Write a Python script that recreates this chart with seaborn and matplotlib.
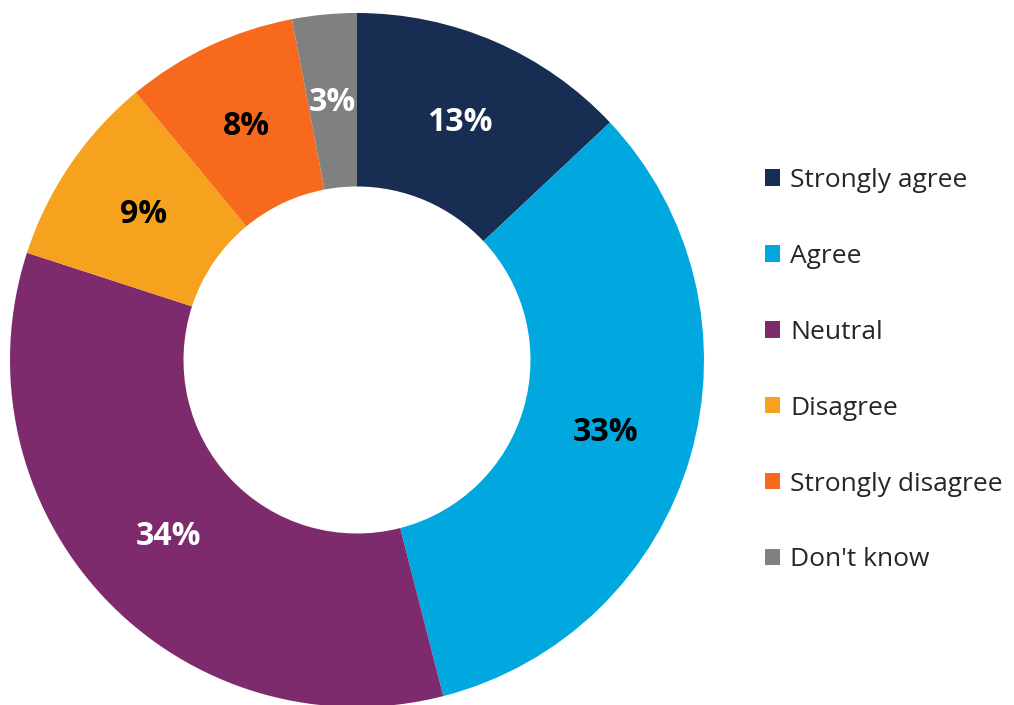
import matplotlib
matplotlib.use("Agg")
import matplotlib.pyplot as plt
import seaborn as sns

# survey responses (percent)
categories = ["Strongly agree", "Agree", "Neutral", "Disagree", "Strongly disagree", "Don't know"]
values = [13, 33, 34, 9, 8, 3]
colors = ["#172d52", "#00a8df", "#7e2b6e", "#f6a21e", "#f76a1e", "#808080"]
label_colors = ["white", "black", "white", "black", "black", "white"]

sns.set_theme(style="white")
plt.rcParams["font.family"] = ["Open Sans", "DejaVu Sans"]

fig = plt.figure(figsize=(10.14, 7.05), dpi=100)
ax = fig.add_axes([10 / 1014, -2 / 705, 694 / 1014, 694 / 705])

wedges, texts, autotexts = ax.pie(
    values,
    colors=colors,
    startangle=90,
    counterclock=False,
    autopct="%d%%",
    pctdistance=0.745,
    radius=1.0,
    wedgeprops=dict(width=0.5, edgecolor="none"),
)
for t, c in zip(autotexts, label_colors):
    t.set_color(c)
    t.set_fontsize(23)
    t.set_fontweight("bold")

ax.set_xlim(-1, 1)
ax.set_ylim(-1, 1)
ax.set_aspect("equal")
ax.axis("off")

fig.legend(
    wedges,
    categories,
    loc="center left",
    bbox_to_anchor=(0.754, 0.475),
    frameon=False,
    fontsize=19,
    handlelength=0.58,
    handleheight=0.58,
    handletextpad=0.38,
    labelspacing=1.93,
    borderpad=0,
    borderaxespad=0,
)

fig.savefig("out.png", dpi=100)
